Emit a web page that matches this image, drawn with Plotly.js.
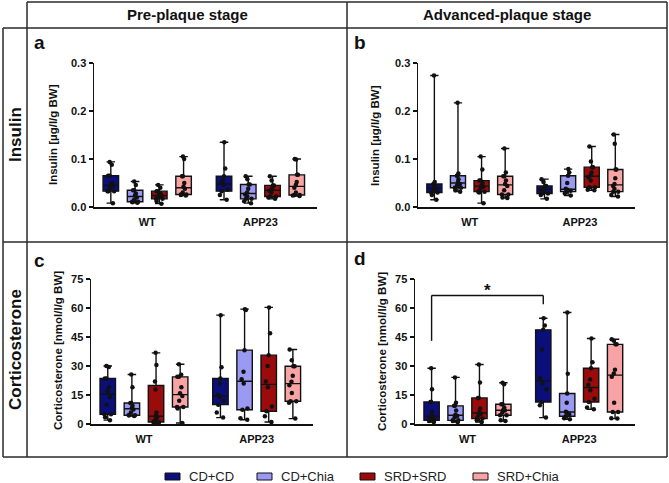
<!DOCTYPE html>
<html><head><meta charset="utf-8">
<script src="https://cdn.plot.ly/plotly-3.0.1.min.js"></script>
<style>html,body{margin:0;padding:0;background:#fff}#chart{width:669px;height:483px}</style>
</head><body><div id="chart"></div>
<script>
const groups = ['WT', 'APP23'];
const seriesNames = ['CD+CD', 'CD+Chia', 'SRD+SRD', 'SRD+Chia'];
const seriesColors = ['#0b0f7c', '#9a9af3', '#9c0b0b', '#f8a4a4'];
const stageLabels = ['Pre-plaque stage', 'Advanced-plaque stage'];
const rowLabels = ['Insulin', 'Corticosterone'];
const panelLetters = ['a', 'b', 'c', 'd'];
const yTitles = ['Insulin [µg/l/g BW]', 'Corticosterone [nmol/l/g BW]'];
const insTicks = [0, 0.1, 0.2, 0.3];
const corTicks = [0, 15, 30, 45, 60, 75];

// a: Insulin, pre-plaque
const insPreWT = [
  [0.008, 0.033, 0.033, 0.033, 0.040, 0.044, 0.047, 0.050, 0.065, 0.065, 0.088, 0.094],
  [0.009, 0.010, 0.011, 0.011, 0.015, 0.020, 0.024, 0.028, 0.035, 0.035, 0.046, 0.053],
  [0.007, 0.012, 0.017, 0.017, 0.020, 0.023, 0.025, 0.028, 0.033, 0.033, 0.040, 0.046],
  [0.024, 0.025, 0.026, 0.026, 0.030, 0.038, 0.042, 0.050, 0.064, 0.064, 0.100, 0.105]
];
const insPreAPP = [
  [0.015, 0.025, 0.033, 0.036, 0.046, 0.050, 0.055, 0.064, 0.080, 0.135],
  [0.008, 0.012, 0.017, 0.017, 0.022, 0.026, 0.030, 0.038, 0.047, 0.047, 0.058, 0.064],
  [0.017, 0.020, 0.022, 0.022, 0.030, 0.034, 0.036, 0.040, 0.045, 0.045, 0.055, 0.064],
  [0.023, 0.024, 0.025, 0.025, 0.030, 0.040, 0.046, 0.052, 0.067, 0.067, 0.099, 0.100]
];
// b: Insulin, advanced-plaque
const insAdvWT = [
  [0.015, 0.025, 0.030, 0.030, 0.035, 0.038, 0.040, 0.042, 0.048, 0.048, 0.052, 0.274],
  [0.032, 0.035, 0.040, 0.040, 0.045, 0.048, 0.052, 0.058, 0.065, 0.065, 0.070, 0.217],
  [0.008, 0.030, 0.032, 0.032, 0.038, 0.042, 0.045, 0.050, 0.055, 0.055, 0.078, 0.105],
  [0.019, 0.020, 0.026, 0.026, 0.035, 0.044, 0.048, 0.055, 0.064, 0.064, 0.072, 0.122]
];
const insAdvAPP = [
  [0.017, 0.025, 0.028, 0.028, 0.033, 0.036, 0.038, 0.040, 0.044, 0.044, 0.052, 0.058],
  [0.024, 0.028, 0.032, 0.034, 0.036, 0.038, 0.050, 0.065, 0.072, 0.079],
  [0.035, 0.036, 0.041, 0.041, 0.055, 0.062, 0.066, 0.072, 0.083, 0.083, 0.095, 0.126],
  [0.022, 0.025, 0.032, 0.032, 0.038, 0.044, 0.048, 0.060, 0.078, 0.078, 0.132, 0.151]
];
// c: Corticosterone, pre-plaque
const corPreWT = [
  [2.0, 3.5, 5.0, 5.0, 10, 14, 17, 19, 23.5, 23.5, 29.5, 30],
  [4.1, 4.5, 4.5, 4.5, 6, 7.5, 8.3, 9.5, 10.9, 10.9, 19, 25.6],
  [0.5, 1, 1, 1, 2.5, 3.5, 4.5, 6, 17.8, 22, 30.5, 36.8],
  [0.5, 8, 8.8, 8.8, 12, 14.5, 15.9, 19, 24.4, 24.4, 25.5, 30.9]
];
const corPreAPP = [
  [3.3, 6.0, 10.0, 12.0, 14.0, 15.0, 21.0, 23.5, 29.4, 56.3],
  [2.2, 3.0, 7.4, 8.0, 21, 23.2, 27, 38.2, 59.0, 59.4],
  [1.0, 4.0, 6.6, 9.0, 19, 22, 30, 35.6, 47, 60.3],
  [2.8, 11.0, 11.8, 11.8, 16, 20, 21.8, 25, 29.9, 29.9, 33, 38.5]
];
// d: Corticosterone, advanced-plaque
const corAdvWT = [
  [1.0, 1.5, 1.9, 1.9, 2.8, 3.5, 4.5, 6.5, 11.4, 11.4, 18, 28.8],
  [1.0, 1.5, 1.9, 1.9, 3.5, 4.2, 4.8, 7, 9.4, 9.4, 11, 24.1],
  [1.0, 2.0, 2.8, 2.8, 4.5, 5.3, 6.1, 8, 13.5, 13.5, 21.5, 30.8],
  [1.5, 2.0, 4.5, 4.5, 6, 7, 7.2, 8.5, 10.2, 10.2, 20.5, 21.3]
];
const corAdvAPP = [
  [3.3, 9.7, 11.4, 18.0, 21.0, 23.6, 38.5, 48.7, 51.0, 54.7],
  [2.4, 3.0, 4.0, 5.0, 6.0, 6.4, 11.0, 15.8, 26.0, 57.7],
  [7.6, 8.5, 11.4, 13, 17.5, 20.3, 23, 28.8, 32, 44.2],
  [2.8, 3.0, 6.2, 6.2, 11.0, 24.5, 26.1, 28, 41.2, 41.2, 43, 43.8]
];
// significance in panel d: WT CD+CD vs APP23 CD+CD
const sigLevels = [66.5, 43, 62]; // bracket top, left leg end, right leg end
const sigText = '*';

const W = 669, H = 483;
const px = x => x / W, py = y => 1 - y / H;
const BOXGAP = 0.143, BOXGROUPGAP = 0.36;
const XR = [-0.47, 1.5];
const FONT = 'Liberation Sans, Arial, sans-serif';
const tf = {family: FONT, size: 11, color: '#111', weight: 'bold'};

const panels = [
  {wt: insPreWT, app: insPreAPP, xa: 'x', ya: 'y'},
  {wt: insAdvWT, app: insAdvAPP, xa: 'x2', ya: 'y2'},
  {wt: corPreWT, app: corPreAPP, xa: 'x3', ya: 'y3'},
  {wt: corAdvWT, app: corAdvAPP, xa: 'x4', ya: 'y4'}
];
const traces = [];
panels.forEach((p, pi) => {
  seriesNames.forEach((name, si) => {
    const a = p.wt[si], b = p.app[si];
    const xs = a.map(() => groups[0]).concat(b.map(() => groups[1]));
    const ys = a.concat(b);
    // box with min-max whiskers
    traces.push({
      type: 'box', name: name, x: xs, y: ys, xaxis: p.xa, yaxis: p.ya,
      alignmentgroup: 'panel' + pi, offsetgroup: 's' + si,
      boxpoints: false, fillcolor: seriesColors[si],
      line: {color: '#111', width: 1.4}, whiskerwidth: 0.55,
      showlegend: false, hoverinfo: 'skip'
    });
    // individual points on top
    traces.push({
      type: 'box', name: name, x: xs, y: ys, xaxis: p.xa, yaxis: p.ya,
      alignmentgroup: 'panel' + pi, offsetgroup: 's' + si,
      boxpoints: 'all', jitter: 0.55, pointpos: 0,
      fillcolor: 'rgba(0,0,0,0)', line: {color: 'rgba(0,0,0,0)', width: 0}, whiskerwidth: 0,
      marker: {color: '#111', size: 4.5},
      showlegend: false, hoverinfo: 'skip'
    });
  });
});

function xax(domain, anchor) {
  return {domain, anchor, type: 'category', categoryorder: 'array', categoryarray: groups,
    range: XR, showline: true, linecolor: '#111', linewidth: 1.5, ticks: '', ticklabelstandoff: 4,
    showgrid: false, zeroline: false, tickfont: tf, fixedrange: true};
}
function yax(domain, anchor, ticks, fmt) {
  return {domain, anchor, range: [ticks[0], ticks[ticks.length - 1]], tickvals: ticks, tickformat: fmt,
    showline: true, linecolor: '#111', linewidth: 1.5, ticks: 'outside', ticklen: 4, tickwidth: 1.5,
    tickcolor: '#111', showgrid: false, zeroline: false, tickfont: tf, fixedrange: true};
}

const domA = {x: [px(94), px(317)], y: [py(207), py(63)]};
const domB = {x: [px(418), px(635)], y: [py(207), py(63)]};
const domC = {x: [px(91), px(313)], y: [py(424), py(279)]};
const domD = {x: [px(415), px(635)], y: [py(424), py(279)]};

const lineStyle = {color: '#2a2a2a', width: 1.5};
const frame = [
  [27, 2, 667, 2], [3, 28, 667, 28], [3, 242, 667, 242], [3, 457, 667, 457],
  [3, 28, 3, 457], [27, 2, 27, 457], [347, 2, 347, 457], [667, 2, 667, 457]
];
const shapes = frame.map(f => ({type: 'line', xref: 'paper', yref: 'paper',
  x0: px(f[0]), y0: py(f[1]), x1: px(f[2]), y1: py(f[3]), line: lineStyle}));

// bracket: positions of CD+CD box within each group
const offset0 = -(1 - BOXGAP) * 3 / 8;
const xL = 0 + offset0, xR = 1 + offset0;
const bl = {color: '#111', width: 1.4};
shapes.push({type: 'line', xref: 'x4', yref: 'y4', x0: xL, x1: xL, y0: sigLevels[1], y1: sigLevels[0], line: bl});
shapes.push({type: 'line', xref: 'x4', yref: 'y4', x0: xL, x1: xR, y0: sigLevels[0], y1: sigLevels[0], line: bl});
shapes.push({type: 'line', xref: 'x4', yref: 'y4', x0: xR, x1: xR, y0: sigLevels[2], y1: sigLevels[0], line: bl});

const annotations = [];
const ann = (x, y, text, font, extra) => Object.assign({xref: 'paper', yref: 'paper', x: px(x), y: py(y),
  xanchor: 'center', yanchor: 'middle', text, showarrow: false, font}, extra || {});
const headFont = {family: FONT, size: 15, weight: 'bold', color: '#111'};
annotations.push(ann(187, 15, stageLabels[0], headFont));
annotations.push(ann(507, 15, stageLabels[1], headFont));
const rowFont = {family: FONT, size: 17, weight: 'bold', color: '#111'};
annotations.push(ann(15, 135, rowLabels[0], rowFont, {textangle: -90}));
annotations.push(ann(15, 350, rowLabels[1], rowFont, {textangle: -90}));
const letterFont = {family: FONT, size: 19, weight: 'bold', color: '#111'};
const letterPos = [[32, 43], [352, 43], [32, 260], [352, 258]];
panelLetters.forEach((l, i) => annotations.push(ann(letterPos[i][0], letterPos[i][1], l, letterFont, {xanchor: 'left'})));
const titleFont = {family: FONT, size: 11.5, weight: 'bold', color: '#111'};
const titlePos = [[53, 135, 0], [375, 135, 0], [58, 351, 1], [382, 351, 1]];
titlePos.forEach(t => annotations.push(ann(t[0], t[1], yTitles[t[2]], titleFont, {textangle: -90})));
annotations.push({xref: 'x4', yref: 'y4', x: (xL + xR) / 2, y: sigLevels[0], xanchor: 'center', yanchor: 'bottom', yshift: -7,
  text: sigText, showarrow: false, font: {family: FONT, size: 17, weight: 'bold', color: '#111'}});

// legend (drawn manually to match the reference key)
const legendX = [165, 257, 360, 473];
const legendY = 476;
seriesNames.forEach((name, i) => {
  shapes.push({type: 'rect', xref: 'paper', yref: 'paper', x0: px(legendX[i]), x1: px(legendX[i] + 15),
    y0: py(legendY + 4), y1: py(legendY - 3), fillcolor: seriesColors[i], line: {color: '#111', width: 1}});
  annotations.push(ann(legendX[i] + 23, legendY, name, {family: FONT, size: 13, color: '#222'},
    {xanchor: 'left', height: 12, borderpad: 0}));
});

const layout = {
  width: W, height: H, margin: {l: 0, r: 0, t: 0, b: 0, autoexpand: false},
  paper_bgcolor: '#fff', plot_bgcolor: 'rgba(0,0,0,0)',
  boxmode: 'group', boxgap: BOXGAP, boxgroupgap: BOXGROUPGAP,
  font: {family: FONT, color: '#111'},
  xaxis: xax(domA.x, 'y'), yaxis: yax(domA.y, 'x', insTicks, '.1f'),
  xaxis2: xax(domB.x, 'y2'), yaxis2: yax(domB.y, 'x2', insTicks, '.1f'),
  xaxis3: xax(domC.x, 'y3'), yaxis3: yax(domC.y, 'x3', corTicks, 'd'),
  xaxis4: xax(domD.x, 'y4'), yaxis4: yax(domD.y, 'x4', corTicks, 'd'),
  showlegend: false,
  shapes, annotations
};
Plotly.newPlot('chart', traces, layout, {staticPlot: true, displayModeBar: false});
</script></body></html>
